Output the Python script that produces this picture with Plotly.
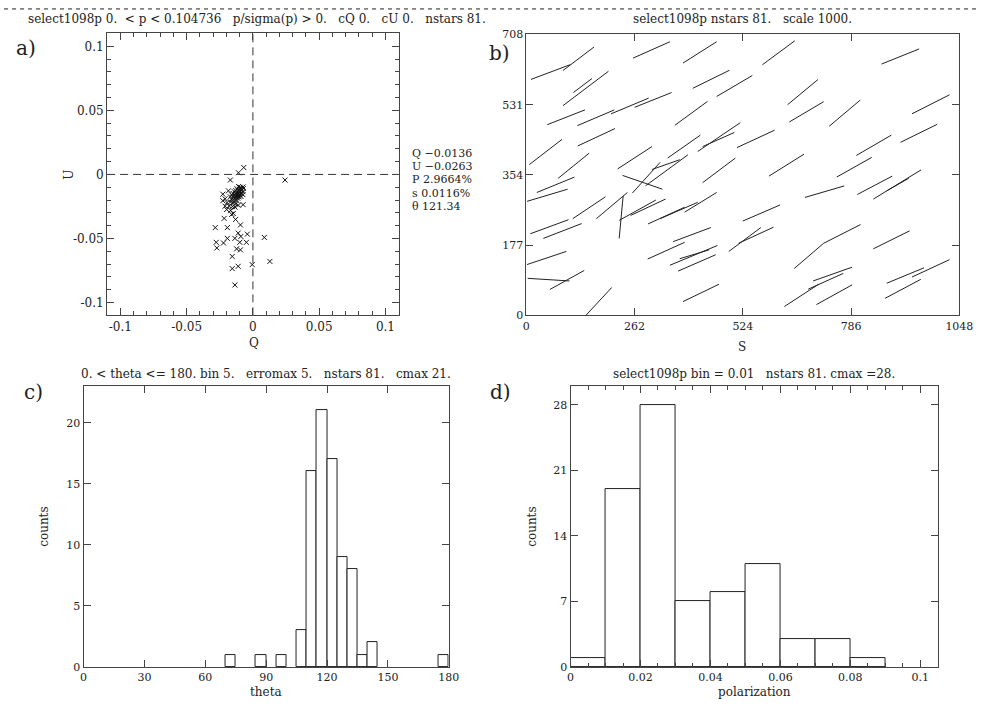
import numpy as np
import plotly.graph_objects as go

# ---------------- data ----------------
# panel a: Q/U of each star
q_vals = [-0.0069, -0.0109, -0.0170, 0.0242, -0.0284, -0.0193, -0.0094, -0.0277, -0.0272, -0.0222,
          -0.0193, -0.0136, -0.0111, -0.0091, -0.0042, -0.0049, -0.0099, -0.0094, -0.0123, 0.0086,
          -0.0156, -0.0156, -0.0111, -0.0005, 0.0128, -0.0136, -0.0217, -0.0131,
          -0.0108, -0.0095, -0.0075, -0.0072, -0.0120, -0.0100, -0.0085, -0.0130, -0.0110, -0.0095,
          -0.0075, -0.0140, -0.0120, -0.0105, -0.0090, -0.0150, -0.0130, -0.0115, -0.0100, -0.0075,
          -0.0227, -0.0160, -0.0140, -0.0125, -0.0110, -0.0090, -0.0170, -0.0150, -0.0132, -0.0115,
          -0.0185, -0.0227, -0.0210, -0.0160, -0.0140, -0.0120, -0.0195, -0.0170, -0.0150, -0.0130,
          -0.0074, -0.0110, -0.0210, -0.0180, -0.0155, -0.0135, -0.0198, -0.0168, -0.0148, -0.0160,
          -0.0100, -0.0085, -0.0105]
u_vals = [0.0054, 0.0013, -0.0044, -0.0044, -0.0415, -0.0415, -0.0394, -0.0530, -0.0574, -0.0535,
          -0.0499, -0.0499, -0.0458, -0.0484, -0.0466, -0.0530, -0.0530, -0.0589, -0.0581, -0.0492,
          -0.0640, -0.0735, -0.0717, -0.0704, -0.0679, -0.0863, -0.0343, -0.0351,
          -0.0095, -0.0100, -0.0098, -0.0110, -0.0112, -0.0115, -0.0120, -0.0125, -0.0128, -0.0130,
          -0.0135, -0.0135, -0.0140, -0.0142, -0.0145, -0.0148, -0.0150, -0.0152, -0.0155, -0.0158,
          -0.0154, -0.0160, -0.0163, -0.0166, -0.0170, -0.0172, -0.0175, -0.0178, -0.0182, -0.0185,
          -0.0128, -0.0205, -0.0190, -0.0195, -0.0200, -0.0205, -0.0220, -0.0215, -0.0222, -0.0230,
          -0.0236, -0.0240, -0.0248, -0.0245, -0.0250, -0.0255, -0.0274, -0.0280, -0.0305, -0.0312,
          -0.0160, -0.0150, -0.0175]
stats_lines = ["Q \u22120.0136", "U \u22120.0263", "P 2.9664%", "s 0.0116%", "\u03b8 121.34"]

# panel b: star positions, vector length (scaled) and angle (deg)
vec_x = [58.6, 126.2, 302.7, 419.9, 610.6, 905.1, 143.7, 136.5, 447.2, 503.8, 669.2, 96.2, 168.2,
         250.5, 306.7, 398.9, 677.9, 770.5, 978.7, 46.7, 169.4, 381.5, 466.2, 465.0, 555.2, 841.0,
         949.8, 114.4, 262.4, 466.2, 629.6, 793.5, 70.8, 50.7, 281.0, 290.1, 339.6, 207.0, 229.5,
         269.1, 294.8, 152.0, 55.8, 87.5, 338.8, 369.2, 421.9, 569.1, 721.8, 843.3, 897.6, 898.7,
         400.9, 528.7, 556.0, 764.2, 883.7, 49.1, 338.4, 404.9, 406.8, 412.8, 683.9, 53.8, 98.5,
         741.2, 724.6, 917.3, 978.7, 666.0, 745.2, 911.4, 422.7, 175.3, 337.6]
vec_y = [613.3, 646.8, 669.0, 662.9, 662.0, 652.5, 572.0, 579.5, 595.1, 578.2, 562.9, 499.3, 498.1,
         527.8, 543.0, 509.2, 513.0, 509.6, 532.0, 411.8, 448.9, 425.4, 449.3, 443.2, 444.8, 428.7,
         458.8, 377.1, 397.3, 365.5, 378.7, 373.4, 329.1, 302.7, 335.4, 346.9, 365.5, 276.7, 247.8,
         265.1, 272.6, 271.4, 223.4, 212.7, 251.5, 264.3, 285.0, 258.1, 311.8, 327.9, 329.9, 329.6,
         203.6, 191.2, 202.0, 205.3, 190.4, 144.6, 163.1, 151.2, 154.0, 132.2, 149.9, 90.0, 89.2,
         104.1, 85.9, 100.4, 118.5, 50.4, 52.0, 66.9, 56.6, 35.1, 380.0]
vec_len = [102, 96, 98.5, 97.6, 98.9, 98.6, 140, 57.4, 99.6, 101.2, 97.3, 98.3, 97.8, 99.3, 96.8,
           99.5, 97.6, 100.1, 102.8, 101.6, 100.3, 98, 126, 84.6, 101, 99, 99.6, 98.5, 100.3, 100.6,
           101.2, 98.2, 98.9, 102.8, 102.6, 102.7, 129, 100, 107.8, 102.4, 94.2, 96.6, 99.2, 99.8,
           98.1, 99.9, 92.1, 98.9, 99.3, 96.5, 137, 61.6, 97.7, 98.3, 93.9, 101, 98.9, 100.6, 98.9,
           125, 74.6, 99.9, 95.5, 101.5, 95.9, 100.4, 93.5, 98.2, 101, 100.3, 99.5, 98.7, 97.5, 94,
           71.7]
vec_ang = [21.4, 38.3, 24.8, 33.4, 37.6, 22.7, 38.2, 38.2, 27.1, 31.5, 40.8, 22.2, 23.9, 23.5, 22.6,
           37.3, 31.6, 41.3, 27.8, 38.8, 25.9, 36.1, 35.2, 24.8, 25.7, 31.2, 27.1, 40.2, 34.1, 38.0,
           33.1, 30.4, 23.1, 17.3, -19.8, 49.1, 37.3, 41.3, 84.9, 30.0, 26.0, 34.9, 21.0, 21.9, 25.4,
           24.4, 32.6, 24.2, 16.9, 28.7, 32.5, 30.6, 21.3, 37.8, 25.6, 27.8, 27.3, 19.2, 25.2, 23.4,
           17.4, 24.4, 41.8, -3.7, 30.0, 20.2, 25.1, 23.3, 25.7, 34.1, 29.9, 29.0, 26.7, 48.3, 20.2]

# panel c: theta histogram (bin 5)
theta_bin_left = [70, 85, 95, 105, 110, 115, 120, 125, 130, 135, 140, 175]
theta_counts = [1, 1, 1, 3, 16, 21, 17, 9, 8, 1, 2, 1]

# panel d: polarization histogram (bin 0.01)
pol_bin_left = [0.0, 0.01, 0.02, 0.03, 0.04, 0.05, 0.06, 0.07, 0.08]
pol_counts = [1, 19, 28, 7, 8, 11, 3, 3, 1]

# ---------------- figure ----------------
SERIF = "DejaVu Serif"
AX = "#444444"
TXT = "#222222"

fig = go.Figure()

# panel a
fig.add_trace(go.Scatter(x=q_vals, y=u_vals, mode="markers", xaxis="x", yaxis="y",
                         marker=dict(symbol="x-thin", size=5, line=dict(color="#111", width=1)),
                         showlegend=False, hoverinfo="skip"))
fig.add_trace(go.Scatter(x=[-0.11, 0.11], y=[0, 0], mode="lines", xaxis="x", yaxis="y",
                         line=dict(color="#333", width=1, dash="8px,5px"), showlegend=False))
fig.add_trace(go.Scatter(x=[0, 0], y=[-0.11, 0.11], mode="lines", xaxis="x", yaxis="y",
                         line=dict(color="#333", width=1, dash="8px,5px"), showlegend=False))

# panel b: vectors
vx = np.array(vec_x); vy = np.array(vec_y)
vl = np.array(vec_len); va = np.radians(np.array(vec_ang))
hx = 0.5 * vl * np.cos(va); hy = 0.5 * vl * np.sin(va)
lx, ly = [], []
for i in range(len(vx)):
    lx += [vx[i] - hx[i], vx[i] + hx[i], None]
    ly += [vy[i] - hy[i], vy[i] + hy[i], None]
fig.add_trace(go.Scatter(x=lx, y=ly, mode="lines", xaxis="x2", yaxis="y2",
                         line=dict(color="#222", width=1), showlegend=False, hoverinfo="skip"))

# panel c
fig.add_trace(go.Bar(x=[b + 2.5 for b in theta_bin_left], y=theta_counts, width=5,
                     xaxis="x3", yaxis="y3", marker=dict(color="white", line=dict(color="#222", width=1)),
                     showlegend=False))
# panel d
fig.add_trace(go.Bar(x=[b + 0.005 for b in pol_bin_left], y=pol_counts, width=0.01,
                     xaxis="x4", yaxis="y4", marker=dict(color="white", line=dict(color="#222", width=1)),
                     showlegend=False))

W, H = 994, 726
def px(x): return x / W
def py(y): return 1 - y / H

def axis(dom, rng, tickvals=None, minor=None, fs=11, anchor=None):
    d = dict(domain=dom, range=rng, showline=True, linecolor=AX, linewidth=1, mirror="ticks",
             ticks="inside", ticklen=7, tickcolor=AX, tickwidth=1, showgrid=False, zeroline=False,
             tickfont=dict(family=SERIF, size=fs, color=TXT), anchor=anchor)
    if tickvals is not None:
        d["tickvals"] = tickvals
        d["ticktext"] = [str(t) for t in tickvals]
    if minor is not None:
        d["minor"] = dict(dtick=minor, ticks="inside", ticklen=4, tickcolor=AX, showgrid=False)
    return d

fig.update_layout(
    width=W, height=H, margin=dict(l=0, r=0, t=0, b=0),
    paper_bgcolor="white", plot_bgcolor="white", bargap=0,
    xaxis=axis([px(105), px(402)], [-0.11, 0.11], tickvals=[-0.1, -0.05, 0, 0.05, 0.1], minor=0.01, fs=12, anchor="y"),
    yaxis=axis([py(315), py(28)], [-0.11, 0.11], tickvals=[-0.1, -0.05, 0, 0.05, 0.1], minor=0.01, fs=12, anchor="x"),
    xaxis2=axis([px(532), px(973)], [0, 1048], tickvals=[0, 262, 524, 786, 1048], fs=11, anchor="y2"),
    yaxis2=axis([py(315), py(29)], [0, 708], tickvals=[0, 177, 354, 531, 708], fs=11, anchor="x2"),
    xaxis3=axis([px(81), px(453)], [0, 180], tickvals=[0, 30, 60, 90, 120, 150, 180], fs=11, anchor="y3"),
    yaxis3=axis([py(673), py(387)], [0, 23], tickvals=[0, 5, 10, 15, 20], fs=11, anchor="x3"),
    xaxis4=axis([px(577), px(951)], [0, 0.105], tickvals=[0, 0.02, 0.04, 0.06, 0.08, 0.1], minor=0.005, fs=11, anchor="y4"),
    yaxis4=axis([py(673), py(387)], [0, 30], tickvals=[0, 7, 14, 21, 28], fs=11, anchor="x4"),
)

ann = []
def text(x, y, s, size=11, xanchor="center", angle=0):
    ann.append(dict(x=px(x), y=py(y), xref="paper", yref="paper", text=s, showarrow=False,
                    xanchor=xanchor, yanchor="middle", textangle=angle,
                    font=dict(family=SERIF, size=size, color=TXT)))

# titles
text(258, 13, "select1098p 0.  &lt; p &lt; 0.104736   p/sigma(p) &gt; 0.   cQ 0.   cU 0.   nstars 81.", 12)
text(752, 13, "select1098p nstars 81.   scale 1000.", 12)
text(267, 375, "0. &lt; theta &lt;= 180. bin 5.   erromax 5.   nstars 81.   cmax 21.", 12)
text(764, 375, "select1098p bin = 0.01   nstars 81. cmax =28.", 12)
# panel labels
text(22, 43, "a)", 20)
text(505, 48, "b)", 20)
text(30, 393, "c)", 20)
text(506, 393, "d)", 20)
# axis titles
text(255, 343, "Q", 12)
text(66, 172, "U", 12, angle=-90)
text(752, 347, "S", 12)
text(267, 699, "theta", 12)
text(40, 530, "counts", 12, angle=-90)
text(764, 699, "polarization", 12)
text(537, 530, "counts", 12, angle=-90)
# stats block
for i, s in enumerate(stats_lines):
    text(413, 150 + i * 13.5, s, 11, xanchor="left")

fig.update_layout(annotations=ann)
# dashed line at top
fig.add_shape(type="line", xref="paper", yref="paper", x0=0, x1=1, y0=py(3), y1=py(3),
              line=dict(color="#222", width=1, dash="4px,4px"))

fig.write_html("out.html")
